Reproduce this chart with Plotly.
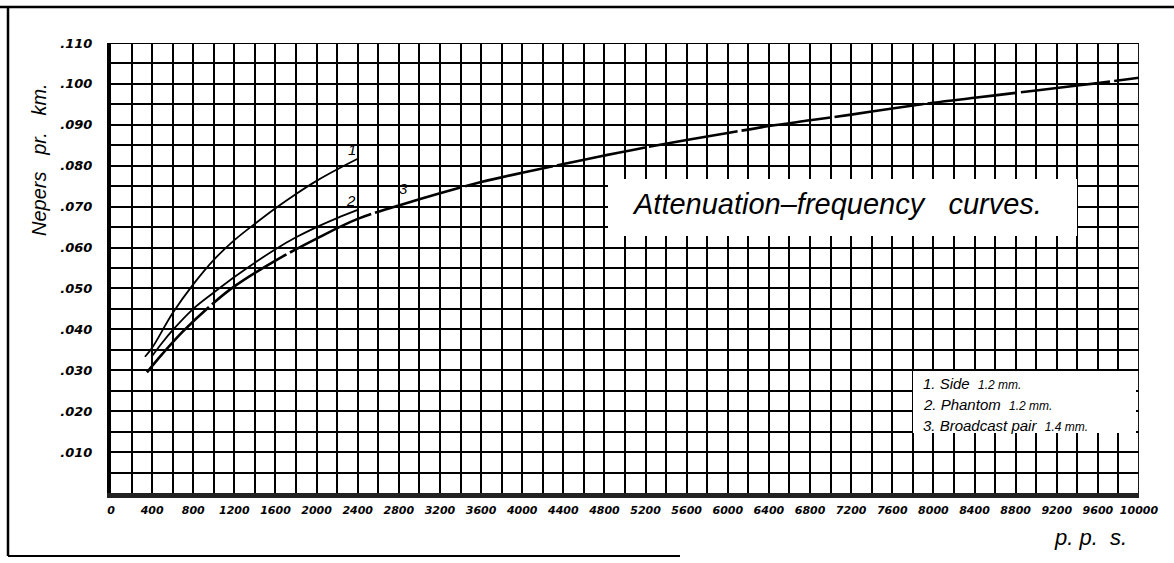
import plotly.graph_objects as go

# Frequency (p.p.s.) and attenuation (nepers per km) for the three circuits
freq_side = [330, 400, 600, 800, 1000, 1200, 1400, 1600, 1800, 2000, 2200, 2400]
att_side = [0.0333, 0.0355, 0.0440, 0.0510, 0.0570, 0.0618, 0.0658, 0.0696, 0.0731, 0.0763, 0.0791, 0.0817]

freq_phantom = [400, 500, 600, 800, 1000, 1200, 1400, 1600, 1800, 2000, 2200, 2400]
att_phantom = [0.0335, 0.0368, 0.0398, 0.0450, 0.0490, 0.0528, 0.0563, 0.0596, 0.0625, 0.0650, 0.0672, 0.0692]

freq_broadcast = [350, 500, 700, 1000, 1200, 1600, 2000, 2400, 2800, 3200, 3600, 4000, 4400,
                  4800, 5200, 5600, 6000, 6400, 6800, 7200, 7600, 8000, 8400, 8800, 9200, 9600, 10000]
att_broadcast = [0.0295, 0.0340, 0.0395, 0.0465, 0.0505, 0.0568, 0.0622, 0.0670, 0.0703, 0.0733,
                 0.0760, 0.0783, 0.0804, 0.0825, 0.0845, 0.0863, 0.0880, 0.0897, 0.0911, 0.0925,
                 0.0940, 0.0954, 0.0966, 0.0978, 0.0990, 0.1002, 0.1015]

x_ticks = list(range(0, 10001, 200))
x_labels = [str(v) if v % 400 == 0 else "" for v in x_ticks]
y_ticks = [i * 0.005 for i in range(0, 23)]
y_labels = [("." + f"{round(v * 1000):03d}") if (i % 2 == 0 and i > 0) else "" for i, v in enumerate(y_ticks)]

FONT = "Liberation Sans"
TICK_FONT = "DejaVu Sans"
ink = "black"

fig = go.Figure()

fig.add_trace(go.Scatter(x=freq_side, y=att_side, mode="lines",
                         line=dict(color=ink, width=1.8, shape="spline"), showlegend=False))
fig.add_trace(go.Scatter(x=freq_phantom, y=att_phantom, mode="lines",
                         line=dict(color=ink, width=1.8, shape="spline"), showlegend=False))
fig.add_trace(go.Scatter(x=freq_broadcast, y=att_broadcast, mode="lines",
                         line=dict(color=ink, width=2.6, shape="spline", dash="90px,4px"),
                         showlegend=False))

def px_x(p):
    return (p - 111) / 1028.0

def px_y(p):
    return (493 - p) / 450.0

shapes = []
# outer frame of the sheet
shapes.append(dict(type="line", xref="paper", yref="paper", x0=px_x(0), x1=px_x(1174),
                   y0=px_y(7), y1=px_y(7), line=dict(color=ink, width=2.5)))
shapes.append(dict(type="line", xref="paper", yref="paper", x0=px_x(8), x1=px_x(8),
                   y0=px_y(8), y1=px_y(556), line=dict(color=ink, width=2.5)))
shapes.append(dict(type="line", xref="paper", yref="paper", x0=px_x(8), x1=px_x(680),
                   y0=px_y(556), y1=px_y(556), line=dict(color=ink, width=2)))
# right and top border of the grid
shapes.append(dict(type="line", xref="x", yref="y", x0=10000, x1=10000, y0=0, y1=0.110,
                   line=dict(color=ink, width=1.8)))
shapes.append(dict(type="line", xref="x", yref="y", x0=0, x1=10000, y0=0.110, y1=0.110,
                   line=dict(color=ink, width=1.8)))
# white panels behind the title and the key
shapes.append(dict(type="rect", xref="paper", yref="paper", x0=px_x(608), x1=px_x(1077),
                   y0=px_y(236), y1=px_y(179), fillcolor="white", line=dict(width=0), layer="above"))
shapes.append(dict(type="rect", xref="paper", yref="paper", x0=px_x(913), x1=px_x(1136),
                   y0=px_y(433), y1=px_y(371), fillcolor="white", line=dict(width=0), layer="above"))

annotations = []
annotations.append(dict(xref="paper", yref="paper", x=px_x(837), y=px_y(204),
                        xanchor="center", yanchor="middle",
                        text="Attenuation–frequency   curves.", showarrow=False,
                        font=dict(family=FONT, size=29, color=ink, style="italic")))
key_lines = [
    ("1. Side&nbsp; <span style='font-size:12px'>1.2 mm.</span>", 383),
    ("2. Phantom&nbsp; <span style='font-size:12px'>1.2 mm.</span>", 404),
    ("3. Broadcast pair&nbsp; <span style='font-size:12px'>1.4 mm.</span>", 425),
]
for txt, py in key_lines:
    annotations.append(dict(xref="paper", yref="paper", x=px_x(921), y=px_y(py),
                            xanchor="left", yanchor="middle",
                            text=txt, showarrow=False,
                            font=dict(family=FONT, size=15, color=ink, style="italic")))
# curve numbers
for txt, fx, fy in [("1", 2340, 0.0840), ("2", 2330, 0.0715), ("3", 2850, 0.0745)]:
    annotations.append(dict(x=fx, y=fy, text=txt, showarrow=False,
                            xanchor="center", yanchor="middle",
                            font=dict(family=FONT, size=15, color=ink, style="italic")))
annotations.append(dict(xref="paper", yref="paper", x=px_x(39), y=px_y(160), textangle=-90,
                        xanchor="center", yanchor="middle",
                        text="Nepers   pr.   km.", showarrow=False,
                        font=dict(family=FONT, size=20, color=ink, style="italic")))
annotations.append(dict(xref="paper", yref="paper", x=px_x(1090), y=px_y(537),
                        xanchor="center", yanchor="middle",
                        text="p. p.  s.", showarrow=False,
                        font=dict(family=FONT, size=22, color=ink, style="italic")))

fig.update_layout(
    width=1174, height=563, autosize=False,
    margin=dict(l=111, r=35, t=43, b=70),
    paper_bgcolor="white", plot_bgcolor="white",
    shapes=shapes, annotations=annotations,
    xaxis=dict(range=[0, 10000], tickmode="array", tickvals=x_ticks, ticktext=x_labels,
               showgrid=True, gridcolor=ink, gridwidth=1.5, zeroline=False,
               showline=True, linecolor="#222", linewidth=5, ticks="", ticklabelstandoff=3,
               tickfont=dict(family=TICK_FONT, size=11, color=ink, style="italic", weight="bold"),
               tickangle=0),
    yaxis=dict(range=[0, 0.110], tickmode="array", tickvals=y_ticks, ticktext=y_labels,
               showgrid=True, gridcolor=ink, gridwidth=1.5, zeroline=False,
               showline=True, linecolor=ink, linewidth=4, ticks="", ticklabelstandoff=12,
               tickfont=dict(family=TICK_FONT, size=13, color=ink, style="italic", weight="bold")),
)

fig.write_html("out.html")
